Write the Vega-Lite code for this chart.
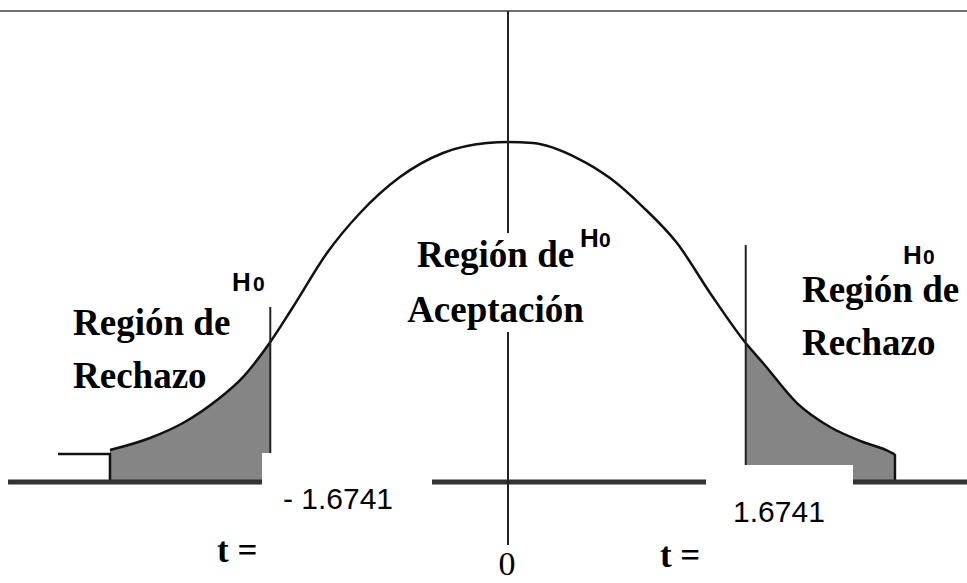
{
  "$schema": "https://vega.github.io/schema/vega-lite/v6.json",
  "width": 967,
  "height": 583,
  "padding": 0,
  "autosize": {"type": "fit", "contains": "padding"},
  "background": "white",
  "config": {"view": {"stroke": null}},
  "datasets": {
    "curve": [
      {"seg": "stub", "i": 0, "t": -3.169, "d": 0.0329},
      {"seg": "stub", "i": 1, "t": -2.803, "d": 0.0329},
      {"seg": "stub", "i": 2, "t": -2.803, "d": 0.0},
      {"seg": "main", "i": 0, "t": -2.803, "d": 0.0376},
      {"seg": "main", "i": 1, "t": -2.521, "d": 0.0518},
      {"seg": "main", "i": 2, "t": -2.289, "d": 0.0694},
      {"seg": "main", "i": 3, "t": -2.049, "d": 0.0965},
      {"seg": "main", "i": 4, "t": -1.866, "d": 0.1235},
      {"seg": "main", "i": 5, "t": -1.6741, "d": 0.1647},
      {"seg": "main", "i": 6, "t": -1.514, "d": 0.2059},
      {"seg": "main", "i": 7, "t": -1.275, "d": 0.2694},
      {"seg": "main", "i": 8, "t": -1.042, "d": 0.3165},
      {"seg": "main", "i": 9, "t": -0.761, "d": 0.3588},
      {"seg": "main", "i": 10, "t": -0.458, "d": 0.3871},
      {"seg": "main", "i": 11, "t": -0.148, "d": 0.3988},
      {"seg": "main", "i": 12, "t": 0.0, "d": 0.4},
      {"seg": "main", "i": 13, "t": 0.176, "d": 0.3988},
      {"seg": "main", "i": 14, "t": 0.486, "d": 0.3812},
      {"seg": "main", "i": 15, "t": 0.718, "d": 0.3576},
      {"seg": "main", "i": 16, "t": 0.951, "d": 0.3235},
      {"seg": "main", "i": 17, "t": 1.19, "d": 0.2812},
      {"seg": "main", "i": 18, "t": 1.423, "d": 0.2224},
      {"seg": "main", "i": 19, "t": 1.6741, "d": 0.1635},
      {"seg": "main", "i": 20, "t": 1.796, "d": 0.14},
      {"seg": "main", "i": 21, "t": 2.035, "d": 0.0929},
      {"seg": "main", "i": 22, "t": 2.268, "d": 0.0647},
      {"seg": "main", "i": 23, "t": 2.5, "d": 0.0471},
      {"seg": "main", "i": 24, "t": 2.69, "d": 0.0353},
      {"seg": "main", "i": 25, "t": 2.725, "d": 0.0318},
      {"seg": "main", "i": 26, "t": 2.725, "d": 0.0}
    ],
    "tails": [
      {"side": "left", "t": -2.803, "d": 0.0376},
      {"side": "left", "t": -2.521, "d": 0.0518},
      {"side": "left", "t": -2.289, "d": 0.0694},
      {"side": "left", "t": -2.049, "d": 0.0965},
      {"side": "left", "t": -1.866, "d": 0.1235},
      {"side": "left", "t": -1.6741, "d": 0.1647},
      {"side": "right", "t": 1.6741, "d": 0.1635},
      {"side": "right", "t": 1.796, "d": 0.14},
      {"side": "right", "t": 2.035, "d": 0.0929},
      {"side": "right", "t": 2.268, "d": 0.0647},
      {"side": "right", "t": 2.5, "d": 0.0471},
      {"side": "right", "t": 2.69, "d": 0.0353},
      {"side": "right", "t": 2.725, "d": 0.0318}
    ],
    "vlines": [
      {"t": 0.0, "d": 0.5541, "d2": 0.2929},
      {"t": 0.0, "d": 0.1765, "d2": -0.0741},
      {"t": -1.6741, "d": 0.2059, "d2": 0.0},
      {"t": 1.6741, "d": 0.2788, "d2": 0.0}
    ],
    "baseline": [{"t": -3.521, "t2": 3.2324, "d": 0.0}],
    "topline": [{"t": -3.5775, "t2": 3.2324, "d": 0.5541}],
    "masks": [
      {"t": -1.7324, "t2": -0.5352, "d": 0.0341, "d2": -0.1188},
      {"t": 1.3944, "t2": 2.4296, "d": 0.02, "d2": -0.1188}
    ],
    "regionLabels": [
      {"t": -3.063, "d": 0.1729, "text": "Región de"},
      {"t": -3.063, "d": 0.1106, "text": "Rechazo"},
      {"t": 2.07, "d": 0.2118, "text": "Región de"},
      {"t": 2.07, "d": 0.1494, "text": "Rechazo"}
    ],
    "centerLabels": [
      {"t": -0.088, "d": 0.2529, "text": "Región de"},
      {"t": -0.088, "d": 0.1886, "text": "Aceptación"}
    ],
    "hLabels": [
      {"t": -1.944, "d": 0.2247, "text": "H"},
      {"t": 0.507, "d": 0.2765, "text": "H"},
      {"t": 2.782, "d": 0.2565, "text": "H"}
    ],
    "subLabels": [
      {"t": -1.796, "d": 0.2247, "text": "0"},
      {"t": 0.641, "d": 0.2765, "text": "0"},
      {"t": 2.922, "d": 0.2565, "text": "0"}
    ],
    "tLabels": [
      {"t": -2.049, "d": -0.0937, "text": "t ="},
      {"t": 1.07, "d": -0.0996, "text": "t ="}
    ],
    "valueLabels": [
      {"t": -1.585, "d": -0.0321, "text": "- 1.6741"},
      {"t": 1.585, "d": -0.0467, "text": "1.6741"}
    ],
    "zeroLabel": [{"t": -0.007, "d": -0.1094, "text": "0"}]
  },
  "layer": [
    {
      "data": {"name": "tails"},
      "mark": {"type": "area", "color": "#858585", "opacity": 1, "clip": true},
      "encoding": {
        "x": {"field": "t", "type": "quantitative", "scale": {"domain": [-3.5775, 3.2324], "nice": false, "zero": false}, "axis": null},
        "y": {"field": "d", "type": "quantitative", "scale": {"domain": [-0.1188, 0.5671], "nice": false, "zero": false}, "axis": null},
        "y2": {"datum": 0},
        "detail": {"field": "side"}
      }
    },
    {
      "data": {"name": "curve"},
      "mark": {"type": "line", "color": "#111111", "strokeWidth": 2.5, "interpolate": "monotone", "clip": true},
      "encoding": {
        "x": {"field": "t", "type": "quantitative", "scale": {"domain": [-3.5775, 3.2324], "nice": false, "zero": false}, "axis": null},
        "y": {"field": "d", "type": "quantitative", "scale": {"domain": [-0.1188, 0.5671], "nice": false, "zero": false}, "axis": null},
        "detail": {"field": "seg"},
        "order": {"field": "i", "type": "quantitative"}
      }
    },
    {
      "data": {"name": "baseline"},
      "mark": {"type": "rule", "color": "#333333", "strokeWidth": 5, "clip": true},
      "encoding": {
        "x": {"field": "t", "type": "quantitative"},
        "x2": {"field": "t2"},
        "y": {"field": "d", "type": "quantitative"}
      }
    },
    {
      "data": {"name": "topline"},
      "mark": {"type": "rule", "color": "#707070", "strokeWidth": 2, "clip": true},
      "encoding": {
        "x": {"field": "t", "type": "quantitative"},
        "x2": {"field": "t2"},
        "y": {"field": "d", "type": "quantitative"}
      }
    },
    {
      "data": {"name": "vlines"},
      "mark": {"type": "rule", "color": "#222222", "strokeWidth": 2, "clip": true},
      "encoding": {
        "x": {"field": "t", "type": "quantitative"},
        "y": {"field": "d", "type": "quantitative"},
        "y2": {"field": "d2"}
      }
    },
    {
      "data": {"name": "tLabels"},
      "mark": {"type": "text", "font": "Liberation Serif", "fontSize": 35, "fontWeight": "bold", "align": "left", "baseline": "alphabetic", "color": "#000000", "clip": true},
      "encoding": {
        "x": {"field": "t", "type": "quantitative"},
        "y": {"field": "d", "type": "quantitative"},
        "text": {"field": "text"}
      }
    },
    {
      "data": {"name": "masks"},
      "mark": {"type": "rect", "color": "#ffffff", "opacity": 1, "clip": true},
      "encoding": {
        "x": {"field": "t", "type": "quantitative"},
        "x2": {"field": "t2"},
        "y": {"field": "d", "type": "quantitative"},
        "y2": {"field": "d2"}
      }
    },
    {
      "data": {"name": "valueLabels"},
      "mark": {"type": "text", "font": "Liberation Sans", "fontSize": 30, "align": "left", "baseline": "alphabetic", "color": "#000000", "clip": true},
      "encoding": {
        "x": {"field": "t", "type": "quantitative"},
        "y": {"field": "d", "type": "quantitative"},
        "text": {"field": "text"}
      }
    },
    {
      "data": {"name": "regionLabels"},
      "mark": {"type": "text", "font": "Liberation Serif", "fontSize": 37, "fontWeight": "bold", "align": "left", "baseline": "alphabetic", "color": "#000000", "clip": true},
      "encoding": {
        "x": {"field": "t", "type": "quantitative"},
        "y": {"field": "d", "type": "quantitative"},
        "text": {"field": "text"}
      }
    },
    {
      "data": {"name": "centerLabels"},
      "mark": {"type": "text", "font": "Liberation Serif", "fontSize": 37, "fontWeight": "bold", "align": "center", "baseline": "alphabetic", "color": "#000000", "clip": true},
      "encoding": {
        "x": {"field": "t", "type": "quantitative"},
        "y": {"field": "d", "type": "quantitative"},
        "text": {"field": "text"}
      }
    },
    {
      "data": {"name": "hLabels"},
      "mark": {"type": "text", "font": "Liberation Sans", "fontSize": 26, "fontWeight": "bold", "align": "left", "baseline": "alphabetic", "color": "#000000", "clip": true},
      "encoding": {
        "x": {"field": "t", "type": "quantitative"},
        "y": {"field": "d", "type": "quantitative"},
        "text": {"field": "text"}
      }
    },
    {
      "data": {"name": "subLabels"},
      "mark": {"type": "text", "font": "Liberation Sans", "fontSize": 21, "fontWeight": "bold", "align": "left", "baseline": "alphabetic", "color": "#000000", "clip": true},
      "encoding": {
        "x": {"field": "t", "type": "quantitative"},
        "y": {"field": "d", "type": "quantitative"},
        "text": {"field": "text"}
      }
    },
    {
      "data": {"name": "zeroLabel"},
      "mark": {"type": "text", "font": "Liberation Serif", "fontSize": 34, "align": "center", "baseline": "alphabetic", "color": "#000000", "clip": true},
      "encoding": {
        "x": {"field": "t", "type": "quantitative"},
        "y": {"field": "d", "type": "quantitative"},
        "text": {"field": "text"}
      }
    }
  ]
}
